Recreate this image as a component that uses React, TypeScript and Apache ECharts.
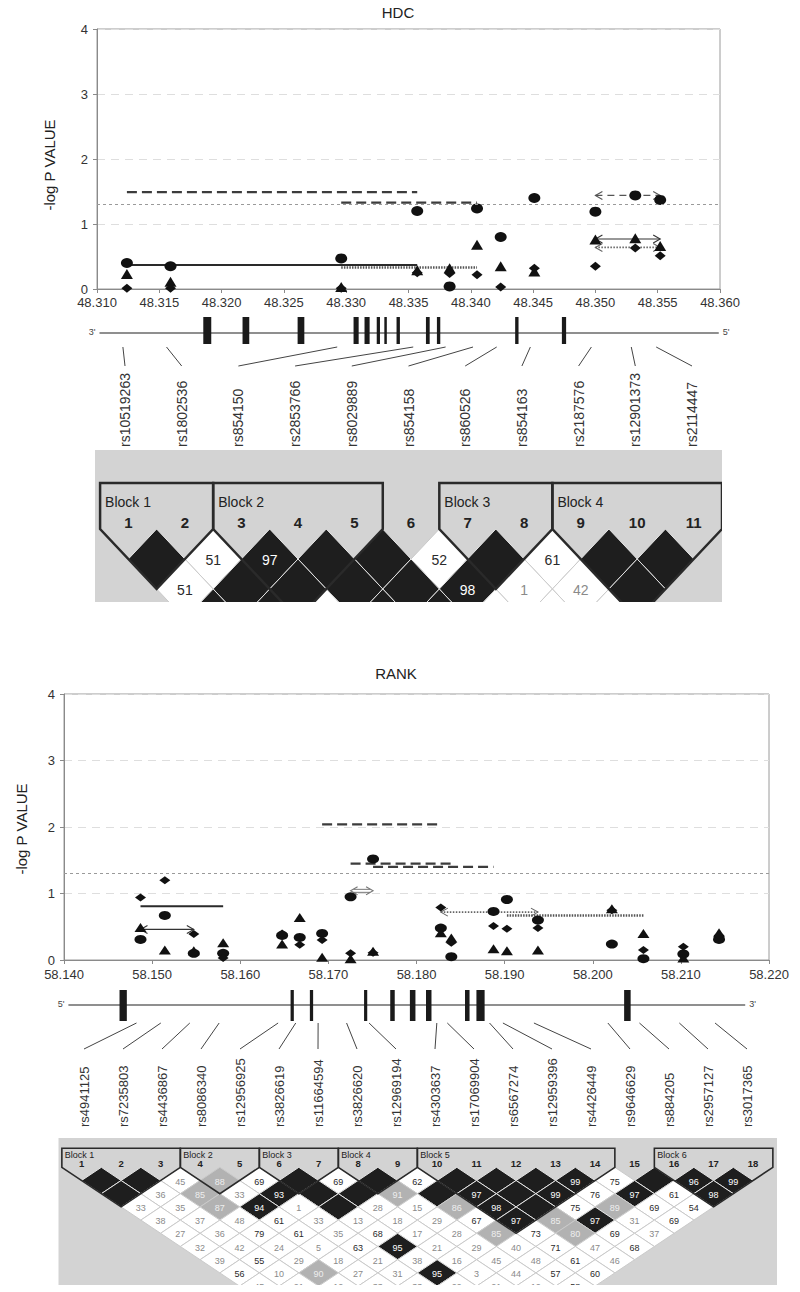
import React, { useEffect, useRef } from 'react';
import * as echarts from 'echarts';

// ---------------- HDC (top panel) ----------------
const HDC_SNPS = ['rs10519263', 'rs1802536', 'rs854150', 'rs2853766', 'rs8029889', 'rs854158', 'rs860526', 'rs854163', 'rs2187576', 'rs12901373', 'rs2114447'];
const HDC_POS = [48.3124, 48.3159, 48.3296, 48.3357, 48.3383, 48.3405, 48.3424, 48.3451, 48.35, 48.3532, 48.3552];
const HDC_CIRCLE = [0.4, 0.35, 0.47, 1.2, 0.04, 1.24, 0.8, 1.4, 1.19, 1.44, 1.37];
const HDC_TRIANGLE = [0.23, 0.11, 0.03, 0.29, 0.32, 0.68, 0.35, 0.27, 0.76, 0.78, 0.66];
const HDC_DIAMOND = [0.01, 0.01, 0.01, 0.25, 0.24, 0.22, 0.03, 0.32, 0.35, 0.63, 0.51];
const HDC_WIN_FROM = [0, 2, 0, 2, 8, 8, 8];
const HDC_WIN_TO = [3, 5, 3, 5, 10, 10, 10];
const HDC_WIN_Y = [1.49, 1.33, 0.37, 0.33, 1.44, 0.77, 0.64];
const HDC_WIN_KIND = ['dashed', 'dashed', 'solid', 'dotted', 'dashed', 'solid', 'dotted'];
const HDC_WIN_ARROW = [0, 0, 0, 0, 1, 1, 1];
const HDC_GENE_SPAN = [48.3102, 48.3599];
const HDC_EXON_START = [48.31853, 48.32168, 48.3261, 48.33059, 48.33147, 48.33245, 48.33306, 48.33404, 48.3364, 48.33728, 48.34356, 48.34731];
const HDC_EXON_END = [48.31917, 48.32222, 48.32664, 48.331, 48.33188, 48.33271, 48.33326, 48.33431, 48.3367, 48.33755, 48.34383, 48.34765];
const HDC_LD = [
  [100, 51, 97, 100, 100, 52, 100, 61, 100, 100],
  [51, 100, 100, 100, 100, 98, 1, 42, 100],
  [100, 100, 45, 100, 100, 30, 20, 35],
];
const HDC_BLOCKS = [[1, 2], [3, 5], [7, 8], [9, 11]];

// ---------------- RANK (bottom panel) ----------------
const RANK_SNPS = ['rs4941125', 'rs7235803', 'rs4436867', 'rs8086340', 'rs12956925', 'rs3826619', 'rs11664594', 'rs3826620', 'rs12969194', 'rs4303637', 'rs17069904', 'rs6567274', 'rs12959396', 'rs4426449', 'rs9646629', 'rs884205', 'rs2957127', 'rs3017365'];
const RANK_POS = [58.14868, 58.15144, 58.15473, 58.15806, 58.16475, 58.16675, 58.16929, 58.17252, 58.17507, 58.18276, 58.18395, 58.18874, 58.19026, 58.19378, 58.20217, 58.20575, 58.21028, 58.21433];
const RANK_CIRCLE = [0.31, 0.67, 0.1, 0.1, 0.37, 0.34, 0.4, 0.95, 1.52, 0.48, 0.05, 0.73, 0.91, 0.6, 0.24, 0.02, 0.09, 0.31];
const RANK_TRIANGLE = [0.49, 0.15, 0.14, 0.26, 0.24, 0.64, 0.04, 0.02, 0.13, 0.41, 0.33, 0.17, 0.14, 0.15, 0.77, 0.4, 0.03, 0.41];
const RANK_DIAMOND = [0.94, 1.2, 0.39, 0.03, 0.4, 0.23, 0.3, 0.1, 0.11, 0.79, 0.26, 0.51, 0.47, 0.48, 0.75, 0.15, 0.2, 0.37];
const RANK_WIN_FROM = [0, 0, 6, 7, 8, 7, 9, 12];
const RANK_WIN_TO = [3, 2, 9, 10, 11, 8, 13, 15];
const RANK_WIN_Y = [0.81, 0.46, 2.04, 1.45, 1.4, 1.04, 0.72, 0.67];
const RANK_WIN_KIND = ['solid', 'solid', 'dashed', 'dashed', 'dashed', 'hollow', 'dotted', 'dotted'];
const RANK_WIN_ARROW = [0, 1, 0, 0, 0, 1, 1, 0];
const RANK_GENE_SPAN = [58.1405, 58.2173];
const RANK_EXON_START = [58.1463, 58.16571, 58.1679, 58.17405, 58.17702, 58.17925, 58.18108, 58.1855, 58.1868, 58.20356];
const RANK_EXON_END = [58.14713, 58.16608, 58.16827, 58.17441, 58.17753, 58.17988, 58.1817, 58.18602, 58.18773, 58.2043];
const RANK_LD = [
  [100, 100, 45, 88, 69, 100, 69, 100, 62, 100, 100, 100, 99, 75, 100, 96, 99],
  [100, 36, 85, 33, 93, 100, 100, 91, 100, 97, 100, 99, 76, 97, 61, 98],
  [33, 35, 87, 94, 1, 100, 28, 15, 86, 98, 100, 75, 89, 69, 54],
  [38, 37, 48, 61, 33, 13, 18, 29, 67, 97, 85, 97, 31, 69],
  [27, 36, 79, 61, 35, 68, 17, 28, 85, 73, 80, 69, 37],
  [32, 42, 24, 5, 63, 95, 21, 29, 40, 71, 47, 68],
  [39, 55, 29, 18, 21, 38, 16, 45, 48, 61, 46],
  [56, 10, 90, 27, 31, 95, 3, 44, 57, 60],
  [45, 21, 12, 33, 33, 29, 21, 12, 58],
];
const RANK_BLOCKS = [[1, 3], [4, 5], [6, 7], [8, 9], [10, 14], [16, 18]];

const KINDS = ['dashed', 'solid', 'dotted', 'hollow'];
const FONT = "'Liberation Sans', Arial, sans-serif";
const NARROW = "'Liberation Sans Narrow', 'Arial Narrow', 'Liberation Sans', sans-serif";
const INK = '#111';

// ---------------- layout ----------------
const P1 = { grid: { left: 97, top: 29, width: 623, height: 260 }, gene: { left: 97, top: 300, width: 623, height: 80 },
  ld: { left: 95, top: 450, width: 627, height: 152 }, ldXMin: 0.41, ldXMax: 11.5, ldRowPx: 30, ldRow0: 529,
  labelX0: 125, labelStep: 56.7, labelBase: 147, base: 33, exTop: 17, exH: 27, cTop: 47, cBot: 66, labelFont: 14,
  ends: ["3'", "5'"], ldNumFont: 15, ldCellFont: 14, ldBlockFont: 14, outlineW: 2.5, numRow: -0.23, blockRow: -0.91, topRow: -1.53, blockPad: 5 };
const P2 = { grid: { left: 64, top: 694, width: 705, height: 266 }, gene: { left: 64, top: 980, width: 705, height: 60 },
  ld: { left: 58.5, top: 1138, width: 718.5, height: 147 }, ldXMin: 0.415, ldXMax: 0.415 + 718.5 / 39.5, ldRowPx: 13.2, ldRow0: 1167.3,
  labelX0: 84, labelStep: 39.0, labelBase: 147, base: 25, exTop: 10, exH: 31, cTop: 43, cBot: 69, labelFont: 13,
  ends: ["5'", "3'"], ldNumFont: 9.5, ldCellFont: 9, ldBlockFont: 9, outlineW: 1.6, numRow: -0.3, blockRow: -0.93, topRow: -1.44, blockPad: 3 };

function winStyle(kind: string, arrow: number): any {
  if (kind === 'dashed') return arrow ? { stroke: '#555', lineWidth: 1.2, lineDash: [7, 5] } : { stroke: '#3c3c3c', lineWidth: 2.2, lineDash: [10, 5] };
  if (kind === 'solid') return arrow ? { stroke: '#333', lineWidth: 1.1 } : { stroke: '#2a2a2a', lineWidth: 2 };
  if (kind === 'dotted') return arrow ? { stroke: '#666', lineWidth: 1.6, lineDash: [1.5, 1.5] } : { stroke: '#555', lineWidth: 2.4, lineDash: [1.5, 1.2] };
  return { stroke: '#777', lineWidth: 1 };
}

function windowSeries(gi: number, pos: number[], from: number[], to: number[], ys: number[], kinds: string[], arrows: number[]) {
  const data = from.map((f, k) => [pos[f], pos[to[k]], ys[k], KINDS.indexOf(kinds[k]), arrows[k]]);
  return {
    type: 'custom', xAxisIndex: gi, yAxisIndex: gi, silent: true, z: 1, encode: { x: [0, 1], y: 2 }, data,
    renderItem: (params: any, api: any) => {
      const p1 = api.coord([api.value(0), api.value(2)]);
      const p2 = api.coord([api.value(1), api.value(2)]);
      const kind = KINDS[api.value(3)];
      const arrow = api.value(4);
      const st = winStyle(kind, arrow);
      const children: any[] = [];
      if (kind === 'hollow') {
        children.push({ type: 'line', shape: { x1: p1[0] + 3, y1: p1[1] - 1.5, x2: p2[0] - 3, y2: p2[1] - 1.5 }, style: st });
        children.push({ type: 'line', shape: { x1: p1[0] + 3, y1: p1[1] + 1.5, x2: p2[0] - 3, y2: p2[1] + 1.5 }, style: st });
      } else {
        children.push({ type: 'line', shape: { x1: p1[0], y1: p1[1], x2: p2[0], y2: p2[1] }, style: st });
      }
      if (arrow) {
        const hs = { stroke: st.stroke, lineWidth: 1.1, fill: 'none' };
        children.push({ type: 'polyline', shape: { points: [[p1[0] + 7, p1[1] - 4], [p1[0], p1[1]], [p1[0] + 7, p1[1] + 4]] }, style: hs });
        children.push({ type: 'polyline', shape: { points: [[p2[0] - 7, p2[1] - 4], [p2[0], p2[1]], [p2[0] - 7, p2[1] + 4]] }, style: hs });
      }
      return { type: 'group', children };
    },
  };
}

function scatterSeries(gi: number, pos: number[], vals: number[], symbol: string, size: number[], markLine?: boolean) {
  const s: any = {
    type: 'scatter', xAxisIndex: gi, yAxisIndex: gi, symbol, symbolSize: size, silent: true, z: 3,
    itemStyle: { color: INK, opacity: 1 }, data: pos.map((x, i) => [x, vals[i]]),
  };
  if (markLine) {
    s.markLine = { silent: true, symbol: 'none', label: { show: false }, lineStyle: { color: '#9a9a9a', type: [3, 3], width: 1 }, data: [{ yAxis: 1.3 }] };
  }
  return s;
}

function geneSeries(gi: number, P: any, span: number[], exS: number[], exE: number[], pos: number[], names: string[]) {
  const baseline = {
    type: 'custom', xAxisIndex: gi, yAxisIndex: gi, silent: true, encode: { x: [0, 1], y: 2 }, data: [[span[0], span[1], 0]],
    renderItem: (params: any, api: any) => {
      const a = api.coord([api.value(0), 0]);
      const b = api.coord([api.value(1), 0]);
      const y = params.coordSys.y + P.base;
      return { type: 'group', children: [
        { type: 'line', shape: { x1: a[0], y1: y, x2: b[0], y2: y }, style: { stroke: '#6a6a6a', lineWidth: 1.6 } },
        { type: 'text', x: a[0] - 4, y: y - 1, style: { text: P.ends[0], align: 'right', verticalAlign: 'middle', font: `9px ${FONT}`, fill: '#444' } },
        { type: 'text', x: b[0] + 4, y: y - 1, style: { text: P.ends[1], align: 'left', verticalAlign: 'middle', font: `9px ${FONT}`, fill: '#444' } },
      ] };
    },
  };
  const exons = {
    type: 'custom', xAxisIndex: gi, yAxisIndex: gi, silent: true, encode: { x: [0, 1], y: 2 }, z: 3,
    data: exS.map((s, i) => [s, exE[i], 0]),
    renderItem: (params: any, api: any) => {
      const a = api.coord([api.value(0), 0]);
      const b = api.coord([api.value(1), 0]);
      const w = Math.max(2.5, b[0] - a[0]);
      return { type: 'rect', shape: { x: a[0], y: params.coordSys.y + P.exTop, width: w, height: P.exH }, style: { fill: '#1a1a1a' } };
    },
  };
  const labels = {
    type: 'custom', xAxisIndex: gi, yAxisIndex: gi, silent: true, encode: { x: 0, y: 2 },
    data: pos.map((p, i) => [p, i, 0]),
    renderItem: (params: any, api: any) => {
      const p = api.coord([api.value(0), 0]);
      const i = api.value(1);
      const lx = P.labelX0 + i * P.labelStep;
      const cy = params.coordSys.y;
      return { type: 'group', children: [
        { type: 'line', shape: { x1: p[0] - 4, y1: cy + P.cTop, x2: lx, y2: cy + P.cBot }, style: { stroke: '#444', lineWidth: 1 } },
        { type: 'text', x: lx, y: cy + P.labelBase, rotation: Math.PI / 2,
          style: { text: names[i], align: 'left', verticalAlign: 'middle', font: `${P.labelFont}px ${FONT}`, fill: '#333' } },
      ] };
    },
  };
  return [baseline, exons, labels];
}

function ldSeries(gi: number, P: any, rows: number[][], blocks: number[][], n: number) {
  const cells: number[][] = [];
  rows.forEach((row, k) => row.forEach((v, idx) => { const i = idx + 1; const j = i + k + 1; cells.push([(i + j) / 2, k + 1, v]); }));
  const cellSeries = {
    type: 'custom', xAxisIndex: gi, yAxisIndex: gi, silent: true, clip: true, encode: { x: 0, y: 1 }, z: 1, data: cells,
    renderItem: (params: any, api: any) => {
      const cx = api.value(0), r = api.value(1), v = api.value(2);
      const pts = [[cx, r - 1], [cx + 0.5, r], [cx, r + 1], [cx - 0.5, r]].map((q) => api.coord(q));
      const dark = v >= 93;
      const mid = v >= 80 && v < 93;
      const fill = dark ? '#1e1e1e' : mid ? '#b2b2b2' : '#ffffff';
      const children: any[] = [{ type: 'polygon', shape: { points: pts }, style: { fill, stroke: dark ? '#e4e4e4' : '#cacaca', lineWidth: 1 } }];
      if (v < 100) {
        const c = api.coord([cx, r]);
        children.push({ type: 'text', x: c[0], y: c[1] + 1, style: { text: String(v), align: 'center', verticalAlign: 'middle',
          font: `${P.ldCellFont}px ${NARROW}`, fill: dark ? '#ffffff' : mid ? '#eeeeee' : v >= 50 ? '#2a2a2a' : '#8a8a8a' } });
      }
      return { type: 'group', children };
    },
  };
  const blockSeries = {
    type: 'custom', xAxisIndex: gi, yAxisIndex: gi, silent: true, clip: true, encode: { x: [0, 1], y: 2 }, z: 2,
    data: blocks.map((b) => [b[0], b[1], 0]),
    renderItem: (params: any, api: any) => {
      const a = api.value(0), b = api.value(1);
      const pts = [[a - 0.5, P.topRow], [b + 0.5, P.topRow], [b + 0.5, 0], [(a + b) / 2, b - a + 1], [a - 0.5, 0]].map((q) => api.coord(q));
      const lp = api.coord([a - 0.5, P.blockRow]);
      return { type: 'group', children: [
        { type: 'polygon', shape: { points: pts }, style: { fill: 'none', stroke: '#2a2a2a', lineWidth: P.outlineW, lineJoin: 'miter' } },
        { type: 'text', x: lp[0] + P.blockPad, y: lp[1], style: { text: 'Block ' + (params.dataIndex + 1), align: 'left', verticalAlign: 'middle', font: `${P.ldBlockFont}px ${NARROW}`, fill: '#222' } },
      ] };
    },
  };
  const idx: number[][] = [];
  for (let i = 1; i <= n; i++) idx.push([i, P.numRow]);
  const numSeries = {
    type: 'custom', xAxisIndex: gi, yAxisIndex: gi, silent: true, encode: { x: 0, y: 1 }, z: 3, data: idx,
    renderItem: (params: any, api: any) => {
      const c = api.coord([api.value(0), api.value(1)]);
      return { type: 'text', x: c[0], y: c[1], style: { text: String(api.value(0)), align: 'center', verticalAlign: 'middle', font: `bold ${P.ldNumFont}px ${NARROW}`, fill: '#222' } };
    },
  };
  return [cellSeries, blockSeries, numSeries];
}

function scatterAxes(gi: number, min: number, max: number, interval: number, margin: number) {
  const x = {
    gridIndex: gi, type: 'value', min, max, interval,
    axisLine: { show: true, lineStyle: { color: '#8a8a8a', width: 1 } },
    axisTick: { show: true, length: 4, lineStyle: { color: '#8a8a8a' } },
    axisLabel: { formatter: (v: number) => v.toFixed(3), color: '#333', fontSize: 13, fontFamily: FONT, margin, showMinLabel: true, showMaxLabel: true },
    splitLine: { show: false },
  };
  const y = {
    gridIndex: gi, type: 'value', min: 0, max: 4, interval: 1,
    axisLine: { show: true, lineStyle: { color: '#8a8a8a', width: 1 } },
    axisTick: { show: true, length: 4, lineStyle: { color: '#8a8a8a' } },
    axisLabel: { color: '#333', fontSize: 13, fontFamily: FONT, margin: 9 },
    splitLine: { show: true, lineStyle: { color: '#dedede', type: [8, 6], width: 1 } },
  };
  return { x, y };
}

function hiddenAxes(gi: number, xmin: number, xmax: number, ymin: number, ymax: number) {
  return {
    x: { gridIndex: gi, type: 'value', min: xmin, max: xmax, show: false },
    y: { gridIndex: gi, type: 'value', min: ymin, max: ymax, inverse: true, show: false },
  };
}

function ldAxes(gi: number, P: any) {
  return hiddenAxes(gi, P.ldXMin, P.ldXMax, (P.ld.top - P.ldRow0) / P.ldRowPx, (P.ld.top + P.ld.height - P.ldRow0) / P.ldRowPx);
}

function buildOption() {
  const grids = [
    { ...P1.grid, show: true, borderColor: '#9a9a9a', borderWidth: 1, backgroundColor: 'transparent' },
    { ...P1.gene },
    { ...P1.ld, show: true, backgroundColor: '#d3d3d3', borderWidth: 0 },
    { ...P2.grid, show: true, borderColor: '#9a9a9a', borderWidth: 1, backgroundColor: 'transparent' },
    { ...P2.gene },
    { ...P2.ld, show: true, backgroundColor: '#d3d3d3', borderWidth: 0 },
  ];
  const a0 = scatterAxes(0, 48.31, 48.36, 0.005, 7);
  const a1 = hiddenAxes(1, 48.31, 48.36, 0, 1);
  const a2 = ldAxes(2, P1);
  const a3 = scatterAxes(3, 58.14, 58.22, 0.01, 8);
  const a4 = hiddenAxes(4, 58.14, 58.22, 0, 1);
  const a5 = ldAxes(5, P2);

  const series: any[] = [
    windowSeries(0, HDC_POS, HDC_WIN_FROM, HDC_WIN_TO, HDC_WIN_Y, HDC_WIN_KIND, HDC_WIN_ARROW),
    scatterSeries(0, HDC_POS, HDC_CIRCLE, 'circle', [12, 10], true),
    scatterSeries(0, HDC_POS, HDC_TRIANGLE, 'triangle', [12, 10]),
    scatterSeries(0, HDC_POS, HDC_DIAMOND, 'diamond', [11, 9]),
    ...geneSeries(1, P1, HDC_GENE_SPAN, HDC_EXON_START, HDC_EXON_END, HDC_POS, HDC_SNPS),
    ...ldSeries(2, P1, HDC_LD, HDC_BLOCKS, HDC_SNPS.length),
    windowSeries(3, RANK_POS, RANK_WIN_FROM, RANK_WIN_TO, RANK_WIN_Y, RANK_WIN_KIND, RANK_WIN_ARROW),
    scatterSeries(3, RANK_POS, RANK_CIRCLE, 'circle', [12, 9], true),
    scatterSeries(3, RANK_POS, RANK_TRIANGLE, 'triangle', [12, 9]),
    scatterSeries(3, RANK_POS, RANK_DIAMOND, 'diamond', [11, 8]),
    ...geneSeries(4, P2, RANK_GENE_SPAN, RANK_EXON_START, RANK_EXON_END, RANK_POS, RANK_SNPS),
    ...ldSeries(5, P2, RANK_LD, RANK_BLOCKS, RANK_SNPS.length),
  ];

  return {
    animation: false,
    backgroundColor: '#ffffff',
    grid: grids,
    xAxis: [a0.x, a1.x, a2.x, a3.x, a4.x, a5.x],
    yAxis: [a0.y, a1.y, a2.y, a3.y, a4.y, a5.y],
    graphic: [
      { type: 'text', x: 398, y: 12, style: { text: 'HDC', align: 'center', verticalAlign: 'middle', font: `15px ${FONT}`, fill: '#222' } },
      { type: 'text', x: 396, y: 673, style: { text: 'RANK', align: 'center', verticalAlign: 'middle', font: `15px ${FONT}`, fill: '#222' } },
      { type: 'text', x: 49, y: 165, rotation: Math.PI / 2, style: { text: '-log P VALUE', align: 'center', verticalAlign: 'middle', font: `15px ${FONT}`, fill: '#222' } },
      { type: 'text', x: 21, y: 829, rotation: Math.PI / 2, style: { text: '-log P VALUE', align: 'center', verticalAlign: 'middle', font: `15px ${FONT}`, fill: '#222' } },
    ],
    series,
  };
}

export default function App() {
  const ref = useRef<HTMLDivElement>(null);
  useEffect(() => {
    const chart = echarts.init(ref.current!, null, { renderer: 'svg' });
    chart.setOption(buildOption() as any);
    return () => chart.dispose();
  }, []);
  return <div ref={ref} style={{ position: 'absolute', left: 0, top: 0, width: 800, height: 1292, background: '#fff' }} />;
}
